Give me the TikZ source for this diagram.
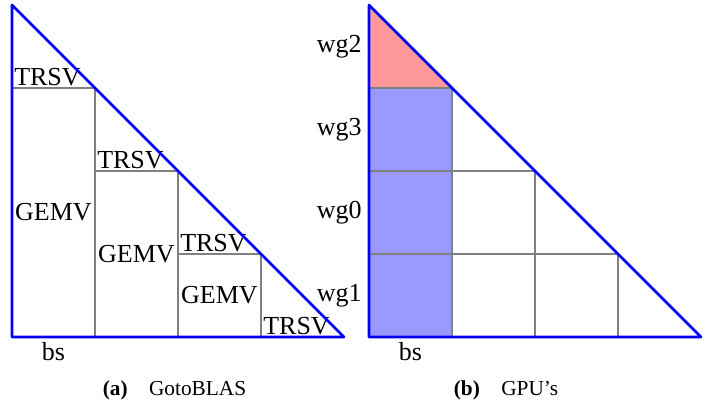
\documentclass[tikz,border=0pt]{standalone}
\usepackage{fontspec}
\setmainfont{Liberation Serif}
\usepackage{tikz}

\begin{document}
\begin{tikzpicture}[
  x=0.75pt, y=0.75pt,
  gridln/.style={draw=gray, line width=1.7pt},
  outline/.style={draw=blue, line width=2pt, line join=round},
  lbl/.style={font=\fontsize{19.5}{23}\selectfont, inner sep=1.5pt},
  captxt/.style={font=\fontsize{16}{19}\selectfont, inner sep=0pt, anchor=base}
]
  \useasboundingbox (0,0) rectangle (716,402);

  % (a) GotoBLAS: staircase of GEMV/TRSV blocks
  \foreach \i in {0,1,2} {
    \draw[gridln] ({12+83*\i},65) rectangle ({95+83*\i},{314-83*\i});
    \node[lbl] (gemv\i) at ({53.5+83*\i},{189.5-41.5*\i}) {GEMV};
    \node[lbl, anchor=south west] (trsv\i) at ({12+83*\i},{314-83*\i}) {TRSV};
  }
  \node[lbl, anchor=south west] (trsv3) at (261,65) {TRSV};
  \draw[outline] (12,397)--(12,65)--(344,65)--cycle;
  \node[lbl, anchor=base] (bsa) at (53.5,41) {bs};
  \node[captxt] (capa) at (174.5,6) {\textbf{(a)}\quad GotoBLAS};

  % (b) GPU's: one work-group per block row
  \fill[red!40] (369,314)--(369,397)--(452,314)--cycle;
  \fill[blue!40] (369,65) rectangle (452,314);
  \foreach \y/\x in {314/452,231/535,148/618} {
    \draw[gridln] (369,\y)--(\x,\y);
    \draw[gridln] (\x,65)--(\x,\y);
  }
  \draw[outline] (369,397)--(369,65)--(701,65)--cycle;
  \foreach \y/\w in {355.5/wg2,272.5/wg3,189.5/wg0,106.5/wg1} {
    \node[lbl, anchor=east] (\w) at (364,\y) {\w};
  }
  \node[lbl, anchor=base] (bsb) at (410.5,41) {bs};
  \node[captxt] (capb) at (506,6) {\textbf{(b)}\quad GPU's};
\end{tikzpicture}
\end{document}
